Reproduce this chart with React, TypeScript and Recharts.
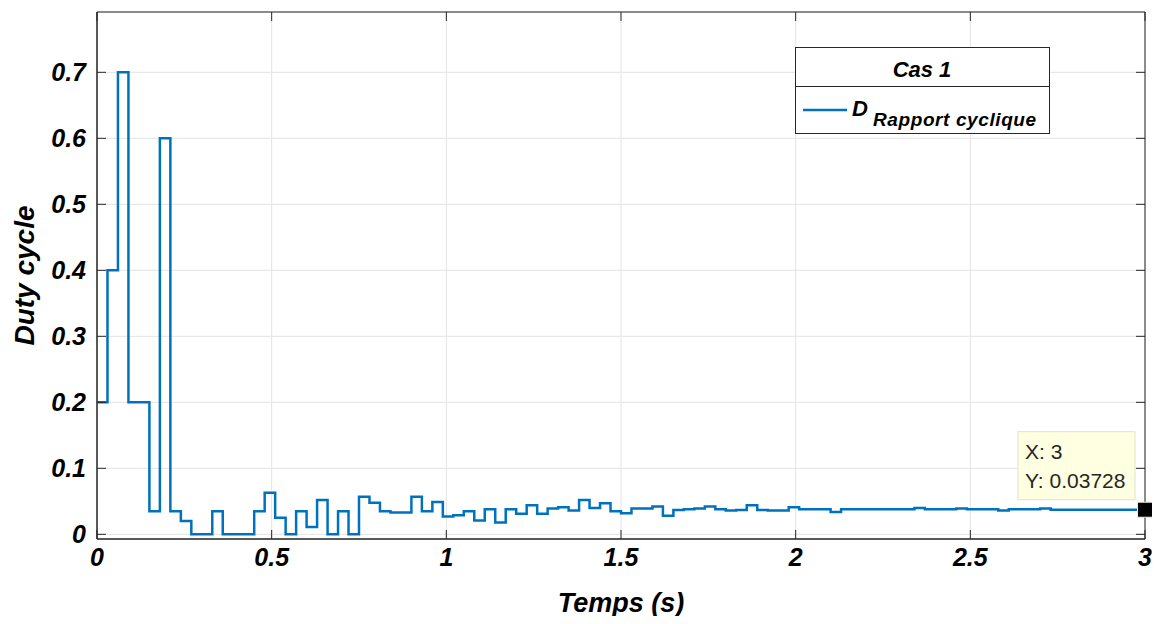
import React from "react"
import { LineChart, Line, XAxis, YAxis, CartesianGrid, ReferenceArea, ReferenceDot, Legend } from "recharts"

// step instants (s) and the duty cycle held from each instant to the next
const stepTimes = [
  0, 0.03, 0.06, 0.09, 0.15, 0.18, 0.21, 0.24, 0.27, 0.33,
  0.36, 0.45, 0.48, 0.51, 0.54, 0.57, 0.6, 0.63, 0.66, 0.69,
  0.72, 0.75, 0.78, 0.81, 0.84, 0.9, 0.93, 0.96, 0.99, 1.02,
  1.05, 1.08, 1.11, 1.14, 1.17, 1.2, 1.23, 1.26, 1.29, 1.32,
  1.35, 1.38, 1.41, 1.44, 1.47, 1.5, 1.53, 1.59, 1.62, 1.65,
  1.68, 1.71, 1.74, 1.77, 1.8, 1.83, 1.86, 1.89, 1.92, 1.98,
  2.01, 2.1, 2.13, 2.34, 2.37, 2.46, 2.49, 2.58, 2.61, 2.7,
  2.73, 3,
]
const dutyCycle = [
  0.2, 0.4, 0.7, 0.2, 0.035, 0.6, 0.035, 0.02, 0, 0.035,
  0, 0.035, 0.063, 0.025, 0, 0.035, 0.011, 0.052, 0, 0.035,
  0, 0.057, 0.048, 0.035, 0.033, 0.057, 0.035, 0.049, 0.027, 0.029,
  0.035, 0.021, 0.038, 0.018, 0.038, 0.031, 0.044, 0.031, 0.039, 0.041,
  0.036, 0.052, 0.04, 0.047, 0.035, 0.032, 0.039, 0.042, 0.028, 0.037,
  0.038, 0.039, 0.042, 0.038, 0.036, 0.037, 0.044, 0.037, 0.036, 0.041,
  0.038, 0.034, 0.038, 0.04, 0.038, 0.039, 0.038, 0.036, 0.038, 0.039,
  0.0373, 0.03728,
]
const xTicks = [0, 0.5, 1, 1.5, 2, 2.5, 3]
const yTicks = [0, 0.1, 0.2, 0.3, 0.4, 0.5, 0.6, 0.7]
const tipX = 3
const tipY = 0.03728

const data = stepTimes.map((t, i) => ({ t, duty: dutyCycle[i] }))

const FONT = '"Liberation Sans", Arial, sans-serif'
const AXIS = "#262626"
const BLUE = "#0072BD"
const PLOT_TOP = 12
const PLOT_RIGHT = 1145
const TICK = 9
const Y_MIN = -0.0071
const Y_MAX = 0.7914

const bold = { fontFamily: FONT, fontWeight: "bold", fontStyle: "italic", fill: "#000" }

function YTick({ x, y, payload }: any) {
  return (
    <g>
      <line x1={x} y1={y} x2={x + TICK} y2={y} stroke={AXIS} />
      <line x1={PLOT_RIGHT - TICK} y1={y} x2={PLOT_RIGHT} y2={y} stroke={AXIS} />
      <text x={x - 11} y={y} dy={9} textAnchor="end" fontSize={25} style={bold}>
        {payload.value}
      </text>
    </g>
  )
}

function XTick({ x, y, payload }: any) {
  return (
    <g>
      <line x1={x} y1={y} x2={x} y2={y - TICK} stroke={AXIS} />
      <line x1={x} y1={PLOT_TOP} x2={x} y2={PLOT_TOP + TICK} stroke={AXIS} />
      <text x={x} y={y + 27} textAnchor="middle" fontSize={25} style={bold}>
        {payload.value}
      </text>
    </g>
  )
}

function CaseLegend() {
  return (
    <svg width={256} height={88}>
      <rect x={0.5} y={0.5} width={254} height={86} fill="#fff" stroke={AXIS} />
      <line x1={0.5} y1={39.5} x2={254.5} y2={39.5} stroke={AXIS} />
      <text x={127} y={30} textAnchor="middle" fontSize={22} style={bold}>Cas 1</text>
      <line x1={8} y1={63} x2={52} y2={63} stroke={BLUE} strokeWidth={2.5} />
      <text x={57} y={69} fontSize={22} style={bold}>D</text>
      <text x={78} y={79} fontSize={19} style={bold} letterSpacing={0.6}>Rapport cyclique</text>
    </svg>
  )
}

function DataTip({ cx, cy }: any) {
  return (
    <g>
      <rect x={cx - 127} y={cy - 78} width={117} height={68} fill="#ffffe1" stroke="#e2e2c8" />
      <text x={cx - 120} y={cy - 51} fontSize={21} fontFamily={FONT} fill={AXIS}>X: {tipX}</text>
      <text x={cx - 120} y={cy - 22} fontSize={21} fontFamily={FONT} fill={AXIS}>Y: {tipY}</text>
      <rect x={cx - 7.5} y={cy - 7.5} width={15} height={15} fill="#000" stroke="#f0f0c0" />
    </g>
  )
}

export default function App() {
  return (
    <div style={{ margin: -8, width: 1160, height: 624, background: "#fff" }}>
      <LineChart width={1160} height={624} data={data} margin={{ top: 12, right: 15, bottom: 35, left: 37 }}>
        <CartesianGrid stroke="#e3e3e3" />
        <XAxis
          dataKey="t"
          type="number"
          domain={[0, 3]}
          ticks={xTicks}
          height={50}
          stroke={AXIS}
          tickSize={0}
          tickMargin={0}
          tick={<XTick />}
          label={(p: any) => (
            <text x={p.viewBox.x + p.viewBox.width / 2} y={p.viewBox.y + 73} textAnchor="middle" fontSize={27} style={bold}>
              Temps (s)
            </text>
          )}
        />
        <YAxis
          type="number"
          domain={[Y_MIN, Y_MAX]}
          ticks={yTicks}
          width={60}
          stroke={AXIS}
          tickSize={0}
          tickMargin={0}
          tick={<YTick />}
          label={(p: any) => {
            const cy = p.viewBox.y + p.viewBox.height / 2
            return (
              <text x={p.viewBox.x - 3} y={cy} transform={`rotate(-90 ${p.viewBox.x - 3} ${cy})`} textAnchor="middle" fontSize={28} style={bold}>
                Duty cycle
              </text>
            )
          }}
        />
        <ReferenceArea x1={0} x2={3} y1={Y_MIN} y2={Y_MAX} fill="none" stroke={AXIS} strokeOpacity={1} />
        <Line type="stepAfter" dataKey="duty" stroke={BLUE} strokeWidth={2.5} dot={false} isAnimationActive={false} />
        <ReferenceDot x={tipX} y={tipY} shape={<DataTip />} />
        <Legend
          layout="vertical"
          align="center"
          verticalAlign="middle"
          content={<CaseLegend />}
          wrapperStyle={{ position: "absolute", left: 795, top: 47, width: 256, height: 88 }}
        />
      </LineChart>
    </div>
  )
}
